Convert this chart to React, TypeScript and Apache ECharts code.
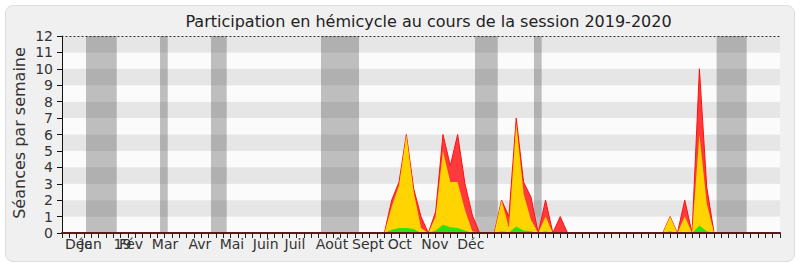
import React, { useEffect, useRef } from "react";
import * as echarts from "echarts";

const titleText = "Participation en hémicycle au cours de la session 2019-2020";
const yName = "Séances par semaine";

const weekCount = 99; // week index 0..98
const weekStart = 45; // first week of the value arrays below

// values from week 45 to week 89
const presences = [2.0, 3.1, 6.0, 2.7, 1.0, 0, 1.3, 6.0, 4.1, 6.0, 3.0, 1.1, 0, 0, 0, 2.0, 1.0, 7.0, 3.1, 2.2, 0, 2.0, 0, 1.0, 0, 0, 0, 0, 0, 0, 0, 0, 0, 0, 0, 0, 0, 0, 1.0, 0, 2.0, 0, 10.0, 2.8, 0];
const participations = [1.6, 2.9, 6.0, 2.5, 0.3, 0, 1.0, 5.0, 3.1, 3.1, 1.4, 0.1, 0, 0, 0, 2.0, 0.3, 6.7, 2.4, 0.8, 0, 1.0, 0, 0, 0, 0, 0, 0, 0, 0, 0, 0, 0, 0, 0, 0, 0, 0, 1.0, 0, 1.0, 0, 6.0, 1.8, 0];
const interventions = [0.2, 0.3, 0.3, 0.25, 0, 0, 0.15, 0.5, 0.35, 0.3, 0.15, 0, 0, 0, 0, 0.1, 0.05, 0.4, 0.15, 0.1, 0, 0.1, 0, 0, 0, 0, 0, 0, 0, 0, 0, 0, 0, 0, 0, 0, 0, 0, 0.1, 0, 0.05, 0, 0.45, 0.1, 0];

// holiday periods (week positions)
const vacations: [number, number][] = [
  [3.28, 7.47],
  [13.38, 14.43],
  [20.34, 22.48],
  [35.35, 40.54],
  [56.37, 59.47],
  [64.42, 65.47],
  [89.35, 93.45],
];

// month labels and their positions (in weeks); the first entry is an empty anchor
const monthNames = ["", "Déc", "Jan", "19", "Fév", "Mar", "Avr", "Mai", "Juin", "Juil", "Août", "Sept", "Oct", "Nov", "Déc"];
const monthPos = [0, 2.25, 3.96, 8.26, 9.42, 14.06, 18.83, 23.2, 27.8, 31.8, 36.85, 41.76, 46.1, 50.9, 55.8];

const yTicks = [0, 12, 1]; // min, max, interval

function buildSeries(values: number[]): [number, number][] {
  const out: [number, number][] = [];
  for (let w = 0; w < weekCount; w++) {
    const i = w - weekStart;
    const v = i >= 0 && i < values.length ? values[i] : 0;
    out.push([w, v]);
  }
  return out;
}

const FONT = '"DejaVu Sans", Verdana, sans-serif';

export default function App() {
  const ref = useRef<HTMLDivElement>(null);
  useEffect(() => {
    if (!ref.current) return;
    const chart = echarts.init(ref.current, undefined, { renderer: "svg" });
    const area = (name: string, data: number[], fill: string, line: string, lw: number, z: number) => ({
      name,
      type: "line",
      data: buildSeries(data),
      xAxisIndex: 0,
      yAxisIndex: 0,
      showSymbol: false,
      symbol: "none",
      z,
      lineStyle: { color: line, width: lw },
      itemStyle: { color: fill },
      areaStyle: { color: fill, opacity: 1 },
    });
    chart.setOption({
      animation: false,
      backgroundColor: "transparent",
      textStyle: { fontFamily: FONT },
      grid: { left: 62, right: 20, top: 36, bottom: 34, containLabel: false },
      graphic: [
        {
          type: "text",
          x: 428.5,
          y: 21,
          style: { text: titleText, fontSize: 16, fontFamily: FONT, fill: "#222", align: "center", verticalAlign: "middle" },
        },
        {
          type: "text",
          x: 19,
          y: 133,
          rotation: Math.PI / 2,
          style: { text: yName, fontSize: 16, fontFamily: FONT, fill: "#333", align: "center", verticalAlign: "middle" },
        },
      ],
      xAxis: [
        {
          type: "value",
          min: 0,
          max: weekCount - 1,
          interval: 1,
          position: "bottom",
          z: 20,
          axisLine: { show: true, onZero: false, lineStyle: { color: "#5e1a1a", width: 2 } },
          axisTick: { show: true, length: 5, lineStyle: { color: "#222", width: 1 } },
          axisLabel: { show: false },
          splitLine: { show: false },
        },
        {
          type: "value",
          min: 0,
          max: weekCount - 1,
          position: "bottom",
          axisLine: { show: false },
          axisTick: { show: false },
          splitLine: { show: false },
          axisLabel: {
            show: true,
            customValues: monthPos,
            hideOverlap: false,
            fontSize: 14,
            fontFamily: FONT,
            color: "#333",
            margin: 4,
            formatter: (v: number) => {
              const i = monthPos.findIndex((p) => Math.abs(p - v) < 1e-6);
              return i >= 0 ? monthNames[i] : "";
            },
          },
        },
        {
          type: "value",
          min: 0,
          max: weekCount - 1,
          position: "top",
          z: 20,
          axisLine: { show: true, lineStyle: { color: "#222", type: [1, 3], width: 1 } },
          axisTick: { show: false },
          axisLabel: { show: false },
          splitLine: { show: false },
        },
      ],
      yAxis: {
        type: "value",
        min: yTicks[0],
        max: yTicks[1],
        interval: yTicks[2],
        axisLine: { show: true, lineStyle: { color: "#111" } },
        axisTick: { show: true, length: 5, lineStyle: { color: "#111" } },
        axisLabel: { fontSize: 14, fontFamily: FONT, color: "#333", margin: 9 },
        splitLine: { show: false },
        splitArea: { show: true, areaStyle: { color: ["#fbfbfb", "#e6e6e6"] } },
      },
      series: [
        {
          name: "vacances",
          type: "line",
          data: [],
          z: 1,
          markArea: {
            silent: true,
            itemStyle: { color: "rgba(68,68,68,0.33)" },
            data: vacations.map(([a, b]) => [{ xAxis: a }, { xAxis: b }]),
          },
        },
        area("Présences", presences, "#ff3a3a", "#ff1010", 1, 2),
        area("Participations", participations, "#ffd400", "#ffd400", 0, 3),
        area("Interventions", interventions, "#30e010", "#30e010", 0, 4),
      ],
    });
    return () => chart.dispose();
  }, []);
  return (
    <div style={{ position: "absolute", left: 0, top: 0, width: 800, height: 267, background: "#fff" }}>
      <div
        style={{
          position: "absolute",
          left: 5,
          top: 5,
          width: 788,
          height: 255,
          background: "#f0f0f0",
          border: "1px solid #dedede",
          borderRadius: 8,
        }}
      />
      <div ref={ref} style={{ position: "absolute", left: 0, top: 0, width: 800, height: 267 }} />
    </div>
  );
}
